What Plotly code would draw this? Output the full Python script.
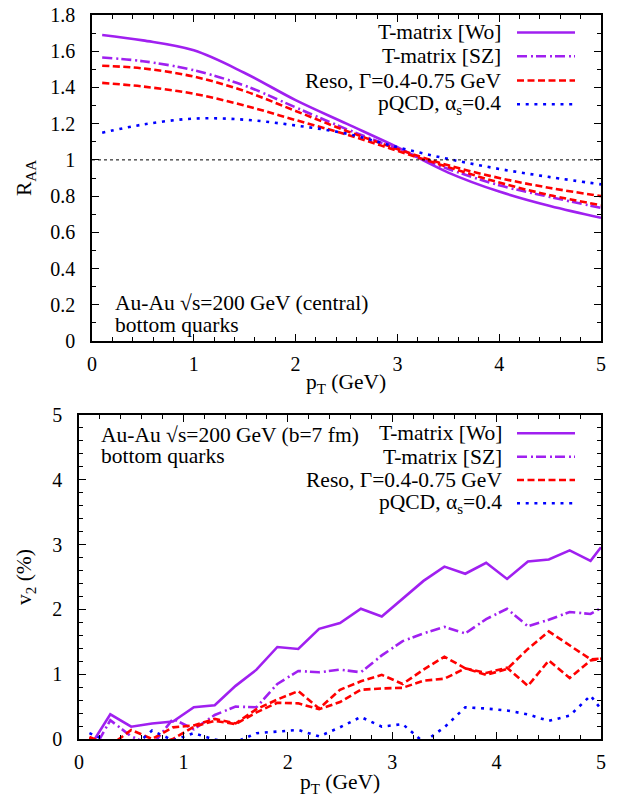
import plotly.graph_objects as go

# ---------------- data ----------------
# top panel: R_AA vs pT
pt_raa = [0.1, 0.5, 1.0, 1.5, 2.0, 2.5, 3.0, 3.5, 4.0, 4.5, 5.0]
raa_wo = [1.69, 1.66, 1.605, 1.48, 1.33, 1.20, 1.07, 0.93, 0.825, 0.745, 0.68]
raa_sz = [1.565, 1.545, 1.495, 1.41, 1.29, 1.17, 1.06, 0.95, 0.86, 0.795, 0.735]
raa_reso_hi = [1.52, 1.505, 1.46, 1.38, 1.27, 1.16, 1.06, 0.97, 0.90, 0.845, 0.80]
raa_reso_lo = [1.425, 1.405, 1.365, 1.30, 1.22, 1.14, 1.05, 0.96, 0.875, 0.805, 0.75]
raa_pqcd = [1.15, 1.195, 1.228, 1.222, 1.19, 1.145, 1.07, 1.005, 0.95, 0.905, 0.865]
raa_ref = 1.0

# bottom panel: v2 (%) vs pT
pt_v2 = [0.1, 0.3, 0.5, 0.7, 0.9, 1.1, 1.3, 1.5, 1.7, 1.9, 2.1, 2.3, 2.5,
         2.7, 2.9, 3.1, 3.3, 3.5, 3.7, 3.9, 4.1, 4.3, 4.5, 4.7, 4.9, 5.0]
v2_wo = [-0.13, 0.38, 0.19, 0.24, 0.27, 0.49, 0.52, 0.82, 1.07, 1.42, 1.39, 1.70, 1.79,
         2.01, 1.89, 2.16, 2.44, 2.66, 2.55, 2.72, 2.47, 2.74, 2.77, 2.91, 2.75, 2.96]
v2_sz = [-0.28, 0.29, 0.04, -0.10, 0.31, 0.15, 0.37, 0.50, 0.49, 0.85, 1.05, 1.03, 1.07,
         1.03, 1.29, 1.51, 1.63, 1.73, 1.63, 1.85, 2.01, 1.74, 1.84, 1.96, 1.93, 2.02]
v2_reso_a = [0.03, -0.10, 0.14, 0.0, 0.18, 0.21, 0.31, 0.24, 0.46, 0.61, 0.74, 0.47, 0.76,
             0.89, 0.99, 0.85, 1.07, 1.27, 1.09, 0.99, 1.08, 1.39, 1.66, 1.44, 1.23, 1.24]
v2_reso_b = [0.02, -0.15, -0.05, -0.10, 0.0, 0.19, 0.28, 0.23, 0.41, 0.56, 0.55, 0.46, 0.57,
             0.76, 0.78, 0.79, 0.90, 0.93, 1.09, 1.02, 1.10, 0.82, 1.21, 0.94, 1.21, 1.24]
v2_pqcd = [0.09, -0.05, -0.15, 0.13, -0.02, 0.09, -0.01, -0.05, 0.09, 0.11, 0.14, 0.04, 0.18,
           0.34, 0.19, 0.23, -0.05, 0.18, 0.49, 0.47, 0.44, 0.38, 0.28, 0.36, 0.67, 0.46]

legend_labels = ["T-matrix [Wo]", "T-matrix [SZ]", "Reso, Γ=0.4-0.75 GeV",
                 "pQCD, α<sub>s</sub>=0.4"]

# ---------------- styles ----------------
PAGE_W, PAGE_H = 619, 801
BODY = 8  # default page body margin
W, H = PAGE_W - BODY, PAGE_H - BODY
FONT = "Liberation Serif"
PURPLE = "#a020f0"
RED = "#ff0000"
BLUE = "#0000ff"
styles = [
    dict(color=PURPLE, width=2.6, dash="solid"),
    dict(color=PURPLE, width=2.6, dash="10px,4px,2px,3px"),
    dict(color=RED, width=2.6, dash="7px,3.5px"),
    dict(color=BLUE, width=2.6, dash="3px,5.7px"),
]
TXT = dict(family=FONT, size=21.5, color="black")
TICKF = dict(family=FONT, size=20, color="black")


def px(x):
    return (x - BODY) / W


def py(y):
    return 1 - (y - BODY) / H


fig = go.Figure()

# top panel
top_series = [raa_wo, raa_sz, raa_reso_hi, raa_reso_lo, raa_pqcd]
series_style = [0, 1, 2, 2, 3]
for ys, si in zip(top_series, series_style):
    fig.add_trace(go.Scatter(x=pt_raa, y=ys, mode="lines", line=dict(**styles[si], shape="spline"),
                             xaxis="x", yaxis="y", showlegend=False, hoverinfo="skip"))

# bottom panel
bot_series = [v2_wo, v2_sz, v2_reso_a, v2_reso_b, v2_pqcd]
for ys, si in zip(bot_series, series_style):
    fig.add_trace(go.Scatter(x=pt_v2, y=ys, mode="lines", line=styles[si],
                             xaxis="x2", yaxis="y2", showlegend=False, hoverinfo="skip"))

# reference line R_AA = 1
fig.add_shape(type="line", xref="x domain", yref="y", x0=0, x1=1, y0=raa_ref, y1=raa_ref,
              line=dict(color="black", width=1, dash="3px,3px"))

axis_common = dict(
    showgrid=False, zeroline=False, showline=True, linecolor="black", linewidth=1.5,
    mirror="ticks", ticks="inside", ticklen=7, tickwidth=1, tickcolor="black",
    tickfont=TICKF, automargin=False, ticklabeloverflow="allow",
)

fig.update_layout(
    template="none",
    width=W, height=H, margin=dict(l=0, r=0, t=0, b=0, pad=0, autoexpand=False),
    paper_bgcolor="white", plot_bgcolor="white",
    font=TXT, showlegend=False,
    xaxis=dict(domain=[px(92), px(601)], anchor="y", range=[0, 5], tick0=0, dtick=1,
               minor=dict(dtick=0.2, ticks="inside", ticklen=4, tickcolor="black"),
               ticklabelstandoff=4, **axis_common),
    yaxis=dict(domain=[py(341), py(15)], anchor="x", range=[0, 1.8], tick0=0, dtick=0.2,
               minor=dict(dtick=0.1, ticks="inside", ticklen=4, tickcolor="black"),
               ticklabelstandoff=11, **axis_common),
    xaxis2=dict(domain=[px(79), px(601)], anchor="y2", range=[0, 5], tick0=0, dtick=1,
                minor=dict(dtick=0.2, ticks="inside", ticklen=4, tickcolor="black"),
                ticklabelstandoff=4, **axis_common),
    yaxis2=dict(domain=[py(739), py(415)], anchor="x2", range=[0, 5], tick0=0, dtick=1,
                minor=dict(dtick=0.2, ticks="inside", ticklen=4, tickcolor="black"),
                ticklabelstandoff=11, **axis_common),
)

ann = []


def add_text(text, x, y, xanchor="center", angle=0, font=TXT):
    ann.append(dict(text=text, x=px(x), y=py(y), xref="paper", yref="paper", showarrow=False,
                    xanchor=xanchor, yanchor="middle", textangle=angle, font=font))


# axis titles
add_text("p<sub>T</sub> (GeV)", 346, 383)
add_text("p<sub>T</sub> (GeV)", 340, 783)
add_text("R<sub>AA</sub>", 25, 178, angle=-90)
add_text("v<sub>2</sub> (%)", 25, 577, angle=-90)
# panel labels
add_text("Au-Au √s=200 GeV (central)", 113, 303, "left")
add_text("bottom quarks", 113, 325, "left")
add_text("Au-Au √s=200 GeV (b=7 fm)", 99, 435, "left")
add_text("bottom quarks", 99, 456, "left")

# gnuplot-style keys (text right-aligned, sample line on the right)
top_rows = [32.5, 56.3, 80.5, 104.3]
bot_rows = [433.3, 456.7, 480.0, 503.3]
for rows, text_right in ((top_rows, 503), (bot_rows, 504)):
    for label, yrow, st in zip(legend_labels, rows, styles):
        add_text(label, text_right, yrow, "right")
        fig.add_shape(type="line", xref="paper", yref="paper", x0=px(517), x1=px(575),
                      y0=py(yrow), y1=py(yrow), line=st)

fig.update_layout(annotations=ann)
fig.write_html("out.html")
